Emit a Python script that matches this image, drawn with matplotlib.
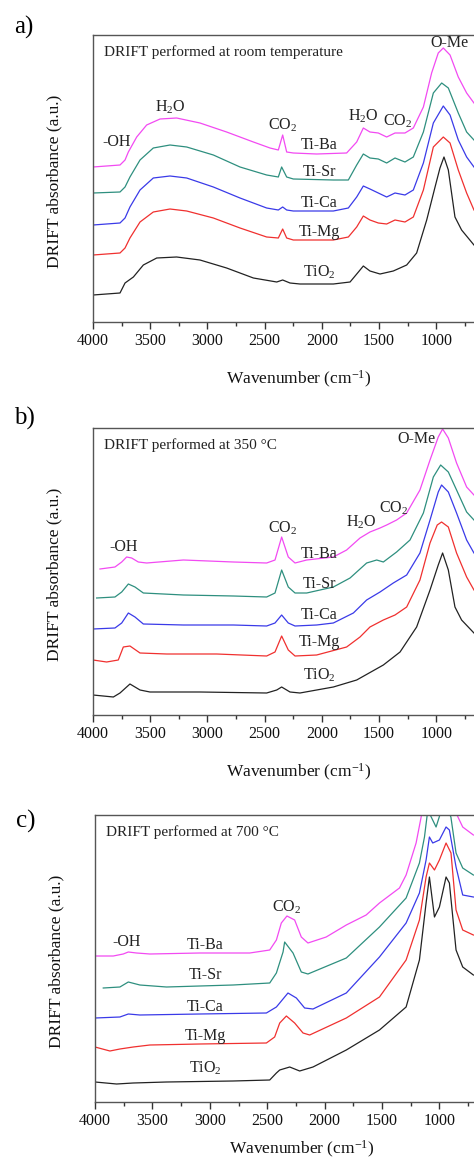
import matplotlib
matplotlib.use("Agg")
import matplotlib.pyplot as plt
from matplotlib.ticker import FixedLocator

plt.rcParams['font.family'] = ['Liberation Serif', 'DejaVu Serif']
plt.rcParams['mathtext.fontset'] = 'custom'
plt.rcParams['mathtext.rm'] = 'Liberation Serif'
plt.rcParams['mathtext.it'] = 'Liberation Serif:italic'

SAMPLES = ["TiO$_2$", "Ti-Mg", "Ti-Ca", "Ti-Sr", "Ti-Ba"]
COLORS = ["#222222", "#f0302f", "#3a3ae8", "#2e8f7f", "#f24af2"]
MAJOR_TICKS = [4000, 3500, 3000, 2500, 2000, 1500, 1000]
MINOR_TICKS = [3750, 3250, 2750, 2250, 1750, 1250, 750]

# ---------------- panel a: room temperature ----------------
A_TIO2_WN = [4000, 3764, 3720, 3647, 3560, 3443, 3269, 3065, 2832, 2598, 2394, 2342, 2278, 2191, 1899, 1753, 1680, 1637, 1579, 1491, 1375, 1258, 1171, 1083, 1010, 967, 932, 894, 836, 778, 670]
A_TIO2_AB = [27, 29, 39, 45, 57, 64, 65, 62, 54, 44, 40, 42, 39, 38, 38, 40, 50, 56, 51, 48, 51, 57, 69, 102, 135, 154, 165, 152, 105, 92, 77]
A_TIMG_WN = [4000, 3764, 3720, 3677, 3589, 3473, 3327, 3181, 2948, 2715, 2482, 2380, 2342, 2307, 2249, 1899, 1768, 1695, 1637, 1579, 1506, 1433, 1360, 1273, 1200, 1112, 1025, 938, 879, 807, 734, 670]
A_TIMG_AB = [67, 69, 74, 84, 100, 110, 113, 111, 104, 94, 85, 84, 93, 84, 82, 82, 85, 95, 106, 102, 99, 98, 102, 100, 105, 132, 175, 185, 179, 152, 129, 112]
A_TICA_WN = [4000, 3764, 3720, 3677, 3589, 3473, 3327, 3181, 2948, 2715, 2482, 2380, 2342, 2307, 2249, 1899, 1768, 1695, 1637, 1579, 1506, 1433, 1360, 1273, 1200, 1112, 1025, 938, 879, 807, 734, 670]
A_TICA_AB = [97, 99, 104, 115, 132, 144, 146, 144, 135, 124, 114, 112, 115, 112, 111, 111, 114, 125, 136, 133, 129, 125, 129, 127, 132, 159, 199, 216, 207, 182, 165, 155]
A_TISR_WN = [4000, 3764, 3720, 3677, 3589, 3473, 3327, 3181, 2948, 2715, 2482, 2380, 2351, 2307, 2249, 1899, 1768, 1695, 1637, 1579, 1506, 1433, 1360, 1273, 1200, 1112, 1025, 952, 894, 807, 734, 670]
A_TISR_AB = [129, 130, 135, 145, 162, 174, 177, 175, 167, 155, 147, 145, 155, 145, 143, 142, 142, 157, 168, 164, 163, 159, 164, 160, 165, 190, 229, 239, 234, 209, 190, 182]
A_TIBA_WN = [4000, 3764, 3720, 3691, 3618, 3531, 3414, 3269, 3065, 2832, 2598, 2453, 2380, 2342, 2307, 2249, 2045, 1783, 1695, 1637, 1579, 1506, 1433, 1360, 1273, 1200, 1112, 1040, 982, 938, 879, 807, 734, 670]
A_TIBA_AB = [155, 157, 162, 170, 185, 197, 203, 204, 199, 190, 180, 174, 172, 187, 170, 169, 168, 169, 180, 194, 190, 189, 185, 189, 189, 194, 215, 249, 269, 274, 267, 245, 229, 219]

# ---------------- panel b: 350 C ----------------
B_TIO2_WN = [4000, 3822, 3764, 3677, 3589, 3502, 3065, 2482, 2394, 2351, 2278, 2191, 1899, 1695, 1462, 1316, 1171, 1054, 982, 944, 894, 836, 778, 670]
B_TIO2_AB = [20, 18, 22, 31, 25, 23, 23, 22, 25, 28, 23, 22, 28, 35, 50, 63, 88, 125, 150, 162, 145, 108, 95, 82]
B_TIMG_WN = [4000, 3881, 3779, 3735, 3677, 3589, 3356, 2919, 2482, 2409, 2351, 2293, 2234, 2045, 1783, 1666, 1579, 1462, 1360, 1258, 1142, 1054, 991, 953, 894, 822, 734, 670]
B_TIMG_AB = [55, 53, 55, 68, 69, 62, 61, 61, 59, 63, 79, 65, 59, 60, 68, 78, 88, 95, 100, 108, 135, 172, 190, 193, 188, 162, 138, 125]
B_TICA_WN = [4000, 3808, 3749, 3691, 3633, 3560, 3210, 2773, 2482, 2409, 2351, 2293, 2234, 2045, 1899, 1724, 1608, 1491, 1375, 1258, 1142, 1054, 982, 953, 894, 822, 734, 670]
B_TICA_AB = [86, 87, 92, 102, 98, 91, 90, 90, 89, 92, 100, 92, 89, 90, 92, 102, 115, 123, 132, 140, 162, 195, 223, 230, 223, 202, 175, 162]
B_TISR_WN = [3968, 3808, 3749, 3691, 3633, 3560, 3210, 2773, 2482, 2409, 2351, 2293, 2234, 2132, 1899, 1753, 1608, 1520, 1462, 1346, 1229, 1112, 1025, 961, 894, 822, 734, 670]
B_TISR_AB = [117, 118, 123, 131, 128, 122, 120, 119, 118, 122, 145, 128, 122, 122, 128, 137, 152, 155, 153, 163, 175, 202, 238, 250, 243, 225, 203, 195]
B_TIBA_WN = [3939, 3808, 3749, 3706, 3662, 3604, 3531, 3210, 2773, 2482, 2409, 2351, 2293, 2234, 2132, 1899, 1783, 1666, 1579, 1491, 1433, 1346, 1258, 1142, 1054, 982, 944, 894, 822, 734, 670]
B_TIBA_AB = [146, 148, 153, 158, 157, 153, 152, 155, 153, 152, 155, 178, 158, 152, 155, 158, 165, 177, 183, 187, 190, 195, 202, 225, 255, 278, 286, 277, 252, 228, 220]

# ---------------- panel c: 700 C ----------------
C_TIO2_WN = [4000, 3812, 3667, 3377, 2797, 2478, 2420, 2391, 2304, 2217, 2101, 1811, 1522, 1290, 1174, 1116, 1087, 1043, 1000, 942, 913, 855, 797, 704]
C_TIO2_AB = [20, 18, 19, 20, 21, 22, 29, 32, 35, 31, 35, 52, 72, 95, 142, 199, 225, 185, 195, 225, 219, 152, 135, 127]
C_TIMG_WN = [4000, 3870, 3783, 3667, 3522, 3087, 2507, 2435, 2391, 2333, 2261, 2188, 2130, 1811, 1522, 1290, 1174, 1116, 1087, 1043, 1000, 942, 899, 855, 797, 704]
C_TIMG_AB = [55, 51, 53, 55, 57, 58, 59, 65, 79, 86, 79, 69, 67, 84, 105, 142, 182, 225, 239, 232, 242, 259, 249, 192, 172, 167]
C_TICA_WN = [4000, 3783, 3710, 3609, 3087, 2507, 2420, 2391, 2319, 2246, 2174, 2101, 1811, 1522, 1290, 1174, 1116, 1087, 1058, 1000, 942, 913, 855, 797, 704]
C_TICA_AB = [84, 85, 88, 87, 88, 89, 95, 99, 109, 104, 94, 93, 109, 145, 179, 209, 242, 265, 259, 262, 275, 272, 235, 207, 205]
C_TISR_WN = [3928, 3783, 3710, 3609, 3377, 2797, 2478, 2420, 2362, 2348, 2275, 2203, 2145, 1811, 1522, 1290, 1174, 1130, 1101, 1029, 960, 900, 855, 797, 704]
C_TISR_AB = [114, 115, 120, 117, 115, 117, 119, 129, 150, 160, 149, 130, 128, 144, 175, 204, 239, 265, 292, 275, 300, 285, 249, 234, 227]
C_TIBA_WN = [3986, 3841, 3754, 3710, 3638, 3522, 3087, 2652, 2478, 2420, 2377, 2328, 2261, 2203, 2145, 1986, 1811, 1638, 1522, 1348, 1290, 1203, 1159, 1100, 1000, 900, 855, 797, 704]
C_TIBA_AB = [146, 146, 148, 150, 149, 148, 149, 149, 152, 162, 179, 186, 182, 165, 159, 165, 177, 187, 199, 214, 227, 259, 285, 320, 330, 310, 289, 275, 267]

PANELS = [
    dict(tag="a)", title="DRIFT performed at room temperature",
         curves=[(A_TIO2_WN, A_TIO2_AB), (A_TIMG_WN, A_TIMG_AB), (A_TICA_WN, A_TICA_AB),
                 (A_TISR_WN, A_TISR_AB), (A_TIBA_WN, A_TIBA_AB)]),
    dict(tag="b)", title="DRIFT performed at 350 \u00b0C",
         curves=[(B_TIO2_WN, B_TIO2_AB), (B_TIMG_WN, B_TIMG_AB), (B_TICA_WN, B_TICA_AB),
                 (B_TISR_WN, B_TISR_AB), (B_TIBA_WN, B_TIBA_AB)]),
    dict(tag="c)", title="DRIFT performed at 700 \u00b0C",
         curves=[(C_TIO2_WN, C_TIO2_AB), (C_TIMG_WN, C_TIMG_AB), (C_TICA_WN, C_TICA_AB),
                 (C_TISR_WN, C_TISR_AB), (C_TIBA_WN, C_TIBA_AB)]),
]

# sample label positions (wavenumber, height) per panel
A_LABEL_WN = 2020
A_LABEL_Y = [50, 90, 119, 150, 177]
B_LABEL_WN = 2020
B_LABEL_Y = [40, 73, 100, 131, 161]
C_LABEL_WN = 3040
C_LABEL_Y = [34, 66, 95, 127, 157]

# band annotations: (text, wavenumber, height)
A_BANDS = [("-OH", 3793, 180), ("H$_2$O", 3327, 215), ("CO$_2$", 2339, 197),
           ("H$_2$O", 1640, 206), ("CO$_2$", 1334, 201), ("O-Me", 880, 279)]
B_BANDS = [("-OH", 3735, 168), ("CO$_2$", 2339, 187), ("H$_2$O", 1651, 193),
           ("CO$_2$", 1372, 207), ("O-Me", 1170, 276)]
C_BANDS = [("-OH", 3724, 160), ("CO$_2$", 2333, 195)]

W, H = 474, 1159
fig = plt.figure(figsize=(W / 100, H / 100), dpi=100)

axes_px = [(93, 322, 0.1144), (93, 715, 0.1144), (95, 1102, 0.1148)]
tags_px = [(24, 27), (24, 418), (26, 821)]
label_sets = [(A_LABEL_WN, A_LABEL_Y), (B_LABEL_WN, B_LABEL_Y), (C_LABEL_WN, C_LABEL_Y)]
band_sets = [A_BANDS, B_BANDS, C_BANDS]
xlabel_pads = [14, 14, 7]

for i, panel in enumerate(PANELS):
    left, bottom, scale = axes_px[i]
    width_px = 3600 * scale
    ax = fig.add_axes([left / W, (H - bottom) / H, width_px / W, 287 / H])
    for (wn, ab), col in zip(panel["curves"], COLORS):
        ax.plot(wn, ab, color=col, lw=0.9, solid_joinstyle='round')
    ax.set_xlim(4000, 400)
    ax.set_ylim(0, 287)
    ax.xaxis.set_major_locator(FixedLocator(MAJOR_TICKS))
    ax.xaxis.set_minor_locator(FixedLocator(MINOR_TICKS))
    ax.tick_params(axis='x', which='major', direction='out', length=5, width=1,
                   labelsize=11.5, pad=3, top=False, colors='#333333', labelcolor='#111111')
    ax.tick_params(axis='x', which='minor', direction='out', length=3, width=1, top=False,
                   colors='#333333')
    ax.set_yticks([])
    for sp in ax.spines.values():
        sp.set_color('#555555')
        sp.set_linewidth(1.0)
    ax.set_xlabel("Wavenumber (cm$^{-1}$)", fontsize=12.5, labelpad=xlabel_pads[i], color='#111111')
    ax.set_ylabel("DRIFT absorbance (a.u.)", fontsize=12.5, color='#111111')
    ax.yaxis.set_label_coords(-0.074, 0.49)

    ax.text(3905, 270, panel["title"], fontsize=11, ha='left', va='center', color='#222222')
    lw_, ly_ = label_sets[i]
    for s, yv in zip(SAMPLES, ly_):
        ax.text(lw_, yv, s, fontsize=11.5, ha='center', va='center', color='#222222')
    for txt, xv, yv in band_sets[i]:
        ax.text(xv, yv, txt, fontsize=11.5, ha='center', va='center', color='#222222')

    tx, ty = tags_px[i]
    fig.text(tx / W, 1 - ty / H, panel["tag"], fontsize=18, ha='center', va='center')

fig.savefig("out.png", dpi=100)
